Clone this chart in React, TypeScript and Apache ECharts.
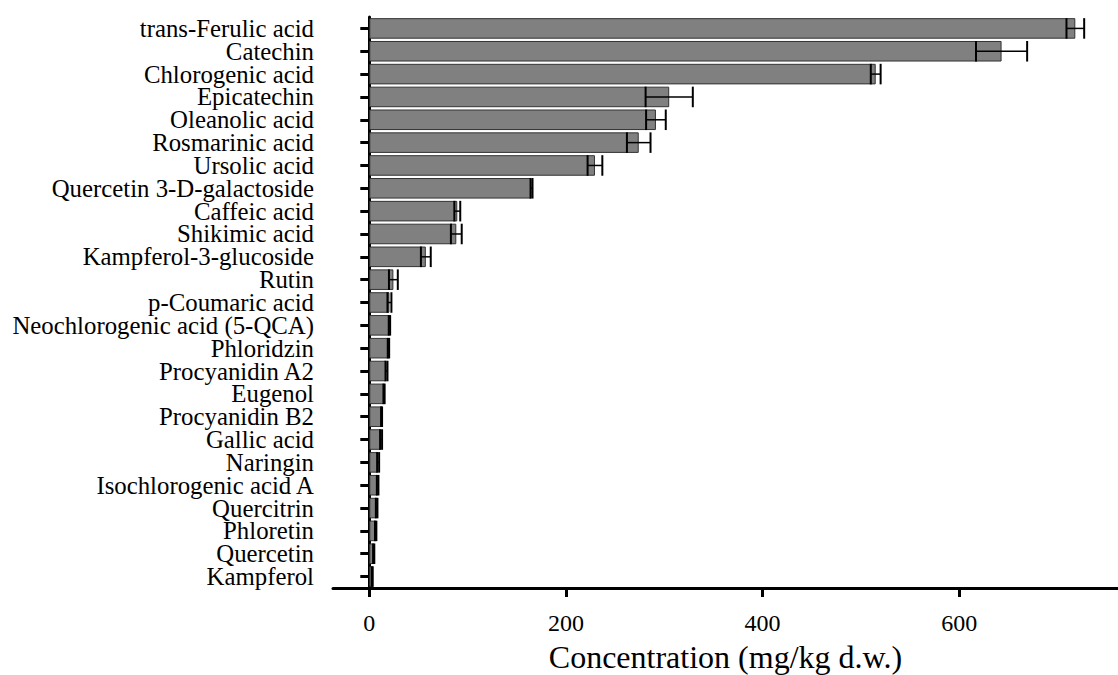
import React, { useEffect, useRef } from "react";
import * as echarts from "echarts";

const categories = [
  "trans-Ferulic acid",
  "Catechin",
  "Chlorogenic acid",
  "Epicatechin",
  "Oleanolic acid",
  "Rosmarinic acid",
  "Ursolic acid",
  "Quercetin 3-D-galactoside",
  "Caffeic acid",
  "Shikimic acid",
  "Kampferol-3-glucoside",
  "Rutin",
  "p-Coumaric acid",
  "Neochlorogenic acid (5-QCA)",
  "Phloridzin",
  "Procyanidin A2",
  "Eugenol",
  "Procyanidin B2",
  "Gallic acid",
  "Naringin",
  "Isochlorogenic acid A",
  "Quercitrin",
  "Phloretin",
  "Quercetin",
  "Kampferol",
];

const means = [
  718, 643, 515, 305, 291.5, 274, 229.5, 165, 89.5, 88.5, 57.5, 24.5, 20.5,
  20.5, 19.5, 17.5, 15, 12.5, 12, 9, 8.5, 7.5, 6.5, 4.5, 3,
];

const sds = [
  9, 26, 5, 24, 10, 12, 7.5, 1, 3, 5.5, 5, 4.5, 2, 0.7, 0.7, 1, 0.6, 0.5, 1, 1,
  0.8, 0.8, 0.7, 0.6, 0.5,
];

const xTicks = [0, 200, 400, 600];

const FONT = "'Liberation Serif', 'Times New Roman', serif";

export default function App() {
  const ref = useRef<HTMLDivElement>(null);

  useEffect(() => {
    if (!ref.current) return;
    const chart = echarts.init(ref.current, null, { renderer: "svg" });

    const errData = categories.map((_, i) => [means[i] - sds[i], means[i] + sds[i], i]);

    chart.setOption({
      animation: false,
      backgroundColor: "#ffffff",
      grid: {
        left: 333,
        right: 0,
        top: 17,
        bottom: 87,
        containLabel: false,
        outerBoundsMode: "none",
      },
      xAxis: {
        type: "value",
        min: -36.9,
        max: 761.4,
        name: "Concentration (mg/kg d.w.)",
        nameLocation: "middle",
        nameGap: 53,
        nameTextStyle: { fontFamily: FONT, fontSize: 32, color: "#000" },
        axisLine: { show: true, onZero: false, lineStyle: { color: "#000", width: 3 } },
        axisTick: {
          show: true,
          customValues: xTicks,
          length: 9,
          lineStyle: { color: "#000", width: 3 },
        },
        axisLabel: {
          customValues: xTicks,
          margin: 23,
          fontFamily: FONT,
          fontSize: 24,
          color: "#000",
        },
        splitLine: { show: false },
      },
      yAxis: {
        type: "category",
        data: categories,
        inverse: true,
        axisLine: { show: true, lineStyle: { color: "#000", width: 3 } },
        axisTick: {
          show: true,
          alignWithLabel: true,
          interval: 0,
          length: 9,
          lineStyle: { color: "#000", width: 3 },
        },
        axisLabel: {
          interval: 0,
          hideOverlap: false,
          margin: 19,
          fontFamily: FONT,
          fontSize: 24.8,
          lineHeight: 22,
          color: "#000",
        },
        splitLine: { show: false },
      },
      series: [
        {
          type: "bar",
          data: means,
          barWidth: "90%",
          itemStyle: { color: "#808080", borderColor: "#333333", borderWidth: 1 },
        },
        {
          type: "custom",
          data: errData,
          encode: { x: [0, 1], y: 2 },
          z: 10,
          renderItem: (params: any, api: any) => {
            const lo = api.value(0);
            const hi = api.value(1);
            const idx = api.value(2);
            const p1 = api.coord([lo, idx]);
            const p2 = api.coord([hi, idx]);
            const band = api.size([0, 1])[1];
            const h = band * 0.45;
            const style = { stroke: "#000", lineWidth: 2 };
            return {
              type: "group",
              children: [
                { type: "line", shape: { x1: p1[0], y1: p1[1], x2: p2[0], y2: p2[1] }, style: { stroke: "#000", lineWidth: 1.5 } },
                { type: "line", shape: { x1: p1[0], y1: p1[1] - h, x2: p1[0], y2: p1[1] + h }, style },
                { type: "line", shape: { x1: p2[0], y1: p2[1] - h, x2: p2[0], y2: p2[1] + h }, style },
              ],
            };
          },
        },
      ],
    });

    return () => chart.dispose();
  }, []);

  return <div ref={ref} style={{ width: 1118, height: 675, position: "absolute", left: 0, top: 0 }} />;
}
